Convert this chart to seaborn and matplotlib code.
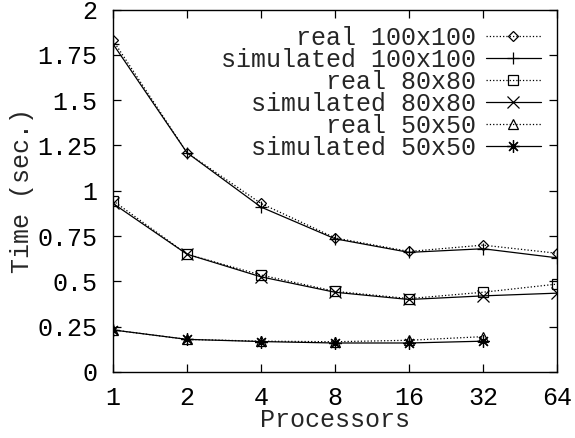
import matplotlib
matplotlib.use("Agg")
import matplotlib.pyplot as plt
import seaborn as sns

# Data
procs = [1, 2, 4, 8, 16, 32, 64]
procs_50 = [1, 2, 4, 8, 16, 32]

real_100 = [1.83, 1.21, 0.93, 0.74, 0.665, 0.70, 0.655]
sim_100 = [1.81, 1.21, 0.91, 0.735, 0.66, 0.68, 0.63]
real_80 = [0.945, 0.65, 0.535, 0.445, 0.405, 0.44, 0.485]
sim_80 = [0.93, 0.65, 0.525, 0.44, 0.40, 0.42, 0.435]
real_50 = [0.232, 0.18, 0.17, 0.167, 0.175, 0.195]
sim_50 = [0.232, 0.18, 0.168, 0.16, 0.16, 0.17]

y_ticks = [0, 0.25, 0.5, 0.75, 1, 1.25, 1.5, 1.75, 2]
y_labels = ["0", "0.25", "0.5", "0.75", "1", "1.25", "1.5", "1.75", "2"]
x_labels = ["1", "2", "4", "8", "16", "32", "64"]

series = [
    ("real 100x100", procs, real_100, "D", ":", 5.5),
    ("simulated 100x100", procs, sim_100, "+", "-", 9),
    ("real 80x80", procs, real_80, "s", ":", 7),
    ("simulated 80x80", procs, sim_80, "x", "-", 8),
    ("real 50x50", procs_50, real_50, "^", ":", 7),
    ("simulated 50x50", procs_50, sim_50, (8, 2, 0), "-", 9),
]

sns.set_style("ticks")
plt.rcParams["font.family"] = ["Liberation Mono", "DejaVu Sans Mono"]
FS = 18

fig = plt.figure(figsize=(5.75, 4.38), dpi=100)
ax = fig.add_axes([0.1965, 0.1507, 0.7722, 0.8276])

# monospace font: right-align legend labels by padding with spaces
width = max(len(s[0]) for s in series)
for label, xs, ys, mk, ls, ms in series:
    sns.lineplot(x=xs, y=ys, ax=ax, label=label.rjust(width), marker=mk,
                 linestyle=ls, color="black", linewidth=0.9, markersize=ms,
                 markerfacecolor="none", markeredgecolor="black",
                 markeredgewidth=0.9)

ax.set_xscale("log", base=2)
ax.set_xlim(1, 64)
ax.set_ylim(0, 2)
ax.set_xticks(procs)
ax.set_xticklabels(x_labels)
ax.minorticks_off()
ax.set_yticks(y_ticks)
ax.set_yticklabels(y_labels)
ax.tick_params(direction="in", top=True, right=True, length=6, width=0.9,
               labelsize=FS, colors="black")
ax.tick_params(axis="x", pad=10)
ax.tick_params(axis="y", pad=11)
for sp in ax.spines.values():
    sp.set_linewidth(1.0)
    sp.set_color("black")

ax.set_xlabel("Processors", fontsize=FS, labelpad=-1)
ax.set_ylabel("Time (sec.)", fontsize=FS, labelpad=3)

ax.legend(loc="upper right", markerfirst=False, frameon=False,
          handlelength=2.2, handletextpad=0.4, labelspacing=-0.08,
          borderpad=0.3, borderaxespad=0.35, fontsize=FS)

fig.savefig("out.png", dpi=100)
